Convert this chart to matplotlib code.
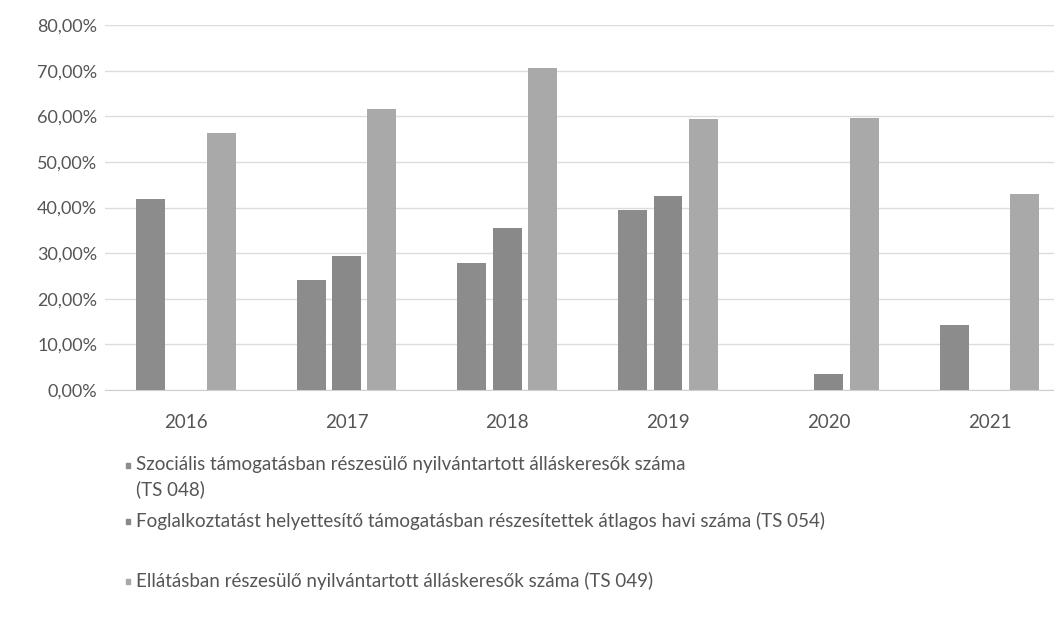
import matplotlib.pyplot as plt
import matplotlib.ticker as mticker
from matplotlib.patches import Rectangle
import numpy as np

# Adatok
evek = ['2016', '2017', '2018', '2019', '2020', '2021']
szocialis = [41.9, 24.1, 27.9, 39.5, np.nan, 14.3]
foglalkoztatast = [np.nan, 29.4, 35.5, 42.5, 3.5, np.nan]
ellatas = [56.4, 61.6, 70.6, 59.4, 59.6, 43.0]

nevek = [
    'Szociális támogatásban részesülő nyilvántartott álláskeresők száma\n(TS 048)',
    'Foglalkoztatást helyettesítő támogatásban részesítettek átlagos havi száma (TS 054)',
    'Ellátásban részesülő nyilvántartott álláskeresők száma (TS 049)',
]
szinek = ['#8c8c8c', '#898989', '#a9a9a9']

plt.rcParams['font.family'] = ['Lato', 'DejaVu Sans']

fig = plt.figure(figsize=(10.54, 6.29), dpi=100)
ax = fig.add_axes([0.100, 0.38, 0.915, 0.58])

x = np.arange(len(evek))
eltolas = 0.22
szel = 0.18
for i, (adat, szin) in enumerate(zip([szocialis, foglalkoztatast, ellatas], szinek)):
    ax.bar(x + (i - 1) * eltolas, adat, szel, color=szin, zorder=3)

ax.set_xlim(-0.5, 5.5)
ax.set_ylim(0, 80)
ax.set_yticks(np.arange(0, 81, 10))
ax.yaxis.set_major_formatter(mticker.FuncFormatter(lambda v, p: f'{v:.2f}%'.replace('.', ',')))
ax.set_xticks(x)
ax.set_xticklabels(evek)
ax.grid(axis='y', color='#dcdcdc', linewidth=1, zorder=0)
for s in ['top', 'right', 'left']:
    ax.spines[s].set_visible(False)
ax.spines['bottom'].set_color('#cfcfcf')
ax.tick_params(axis='y', length=0, labelsize=13, colors='#555555', pad=6)
ax.tick_params(axis='x', length=0, labelsize=13.5, colors='#555555', pad=17)

# Jelmagyarázat kézzel elhelyezve
sor_y = [465, 521, 581]
for nev, szin, yy in zip(nevek, szinek, sor_y):
    fy = 1 - yy / 629
    fig.patches.append(Rectangle((126 / 1054, fy - 0.004), 0.004, 0.007,
                                 transform=fig.transFigure, color=szin))
    fig.text(136 / 1054, fy + (0.0 if '\n' not in nev else -0.019), nev,
             fontsize=13.5, color='#555555', va='center', linespacing=1.45)

fig.savefig('out.png', dpi=100)
